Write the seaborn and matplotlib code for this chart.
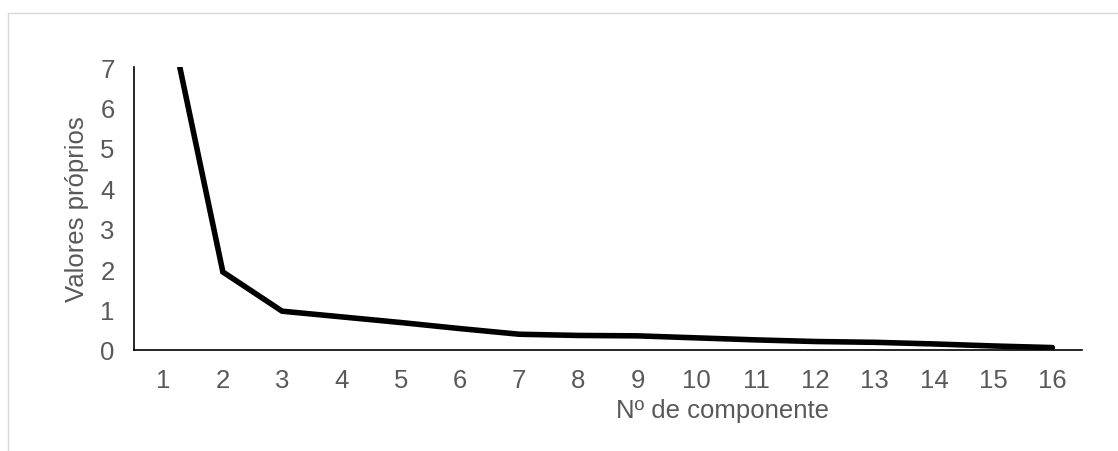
import matplotlib
matplotlib.use("Agg")
import matplotlib.pyplot as plt
import seaborn as sns
import pandas as pd
from matplotlib.patches import Rectangle

components = list(range(1, 17))
eigenvalues = [8.9, 1.93, 0.96, 0.82, 0.68, 0.53, 0.39, 0.36, 0.35, 0.30, 0.25, 0.21, 0.19, 0.15, 0.10, 0.06]
yticks = [0, 1, 2, 3, 4, 5, 6, 7]

sns.set_theme(style="white")
plt.rcParams['font.family'] = ['Liberation Sans', 'DejaVu Sans']

df = pd.DataFrame({"comp": components, "val": eigenvalues})

fig = plt.figure(figsize=(11.18, 4.52), dpi=100)
ax = fig.add_axes([134/1118, 1-351/452, (1082-134)/1118, (351-68)/452])

# light frame around the chart area
fig.patches.append(Rectangle((8/1118, -0.2), 1.2, 1-14/452+0.2, transform=fig.transFigure,
                             fill=False, edgecolor="#d9d9d9", linewidth=1.0, zorder=0))

sns.lineplot(data=df, x="comp", y="val", ax=ax, color="black", linewidth=4.0,
             solid_capstyle="round", solid_joinstyle="miter")

ax.set_xlim(0.5, 16.5)
ax.set_ylim(0, 7)
ax.set_xticks(components)
ax.set_xticklabels([str(c) for c in components])
ax.set_yticks(yticks)
ax.tick_params(axis="both", length=0, labelsize=18.5, labelcolor="#595959")
ax.tick_params(axis="x", pad=13)
ax.tick_params(axis="y", pad=14)

for s in ["top", "right"]:
    ax.spines[s].set_visible(False)
for s in ["left", "bottom"]:
    ax.spines[s].set_visible(True)
    ax.spines[s].set_color("black")
    ax.spines[s].set_linewidth(1.2)

ax.set_xlabel("Nº de componente", fontsize=18.5, color="#595959")
ax.set_ylabel("Valores próprios", fontsize=18.5, color="#595959")
ax.xaxis.set_label_coords((723-134)/948, (351-399)/283)
ax.yaxis.set_label_coords((89-134)/948, 0.5)

fig.savefig("out.png", dpi=100)
